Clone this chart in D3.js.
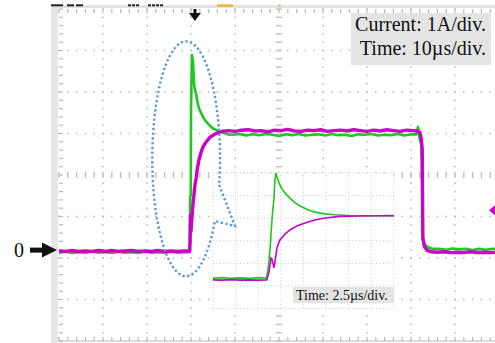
<!DOCTYPE html>
<html>
<head>
<meta charset="utf-8">
<script src="https://d3js.org/d3.v7.min.js"></script>
<style>
  body { margin: 0; background: #fff; }
  svg { display: block; font-family: "Liberation Serif", "DejaVu Serif", serif; }
</style>
</head>
<body>
<div id="chart"></div>
<script>
// main view: time in µs (10 µs/div), current in A (1 A/div)
const greenMain = [
  [0,-0.06],[1.5,-0.04],[3,-0.07],[4.5,-0.05],[6,-0.06],[7.5,-0.03],[9,-0.06],[10.5,-0.05],[12,-0.07],[13.5,-0.04],
  [15,-0.06],[16.5,-0.05],[18,-0.07],[19.5,-0.04],[21,-0.06],[22.5,-0.05],[24,-0.06],[25.5,-0.04],[27,-0.06],[28.5,-0.05],[29.7,-0.05],
  [29.8,1.28],[29.95,1.32],[30.0,3.3],[30.2,4.7],[30.45,4.55],[30.7,4.0],[30.9,3.86],[31.2,3.75],[31.4,3.61],[31.8,3.42],
  [32.3,3.30],[32.8,3.2],[33.2,3.13],[33.8,3.05],[34.3,3.0],[35.0,2.93],[35.5,2.91],[36.6,2.85],[37.5,2.82],[38.4,2.79],
  [39.5,2.78],[41,2.80],[42.5,2.76],[44,2.79],[45.5,2.77],[47,2.80],[48.5,2.78],[50,2.75],[51.5,2.79],[53,2.77],
  [54.5,2.80],[56,2.76],[57.5,2.78],[59,2.79],[60.5,2.76],[62,2.80],[63.5,2.77],[65,2.78],[66.5,2.75],[68,2.79],
  [69.5,2.78],[71,2.80],[72.5,2.76],[74,2.78],[75.5,2.77],[77,2.80],[78.5,2.76],[80,2.79],[81.2,2.79],
  [81.6,2.97],[81.9,2.72],[82.3,2.55],[82.45,2.1],[82.65,0.25],[83.2,0.12],[84,0.06],[85,0.03],
  [86.5,0.03],[88,0.01],[89.5,0.04],[91,0.02],[92.5,0.03],[94,0.0],[95.5,0.03],[97,0.01],[98.5,0.03],[100,0.02]
];
const magentaMain = [
  [0,-0.02],[1.5,-0.03],[3,-0.01],[4.5,-0.03],[6,-0.02],[7.5,-0.03],[9,-0.01],[10.5,-0.03],[12,-0.01],[13.5,-0.03],
  [15,-0.02],[16.5,-0.01],[18,-0.03],[19.5,-0.02],[21,-0.03],[22.5,-0.01],[24,-0.03],[25.5,-0.02],[27,-0.03],[28.5,-0.02],[29.7,-0.02],
  [29.8,0.2],[29.9,0.84],[30.0,0.45],[30.15,0.70],[30.3,0.9],[30.45,1.1],[30.9,1.57],[31.2,1.75],[31.4,1.93],[31.8,2.17],
  [32.3,2.36],[32.7,2.48],[33.4,2.60],[34.3,2.72],[35.5,2.80],[37.0,2.86],
  [38.5,2.88],[40,2.86],[41.5,2.89],[43,2.90],[44.5,2.87],[46,2.88],[47.5,2.85],[49,2.89],[50.5,2.88],[52,2.91],
  [53.5,2.87],[55,2.86],[56.5,2.89],[58,2.88],[59.5,2.90],[61,2.86],[62.5,2.88],[64,2.89],[65.5,2.87],[67,2.90],
  [68.5,2.88],[70,2.86],[71.5,2.89],[73,2.87],[74.5,2.90],[76,2.88],[77.5,2.86],[79,2.89],[80.5,2.88],[81.5,2.87],
  [82.0,2.84],[82.3,2.7],[82.55,2.45],[82.7,0.3],[83.0,0.1],[83.6,0.0],[84.5,-0.04],
  [86,-0.05],[87.5,-0.04],[89,-0.06],[90.5,-0.05],[92,-0.06],[93.5,-0.04],[95,-0.06],[96.5,-0.05],[98,-0.06],[100,-0.05]
];

// zoomed inset: 2.5 µs/div
const greenInset = [
  [0,0.04],[1,0.06],[2,0.03],[3,0.05],[4,0.03],[5,0.06],[5.9,0.04],[6.08,0.4],[6.3,1.28],[6.52,2.6],[6.63,3.1],
  [6.75,3.6],[6.85,4.38],[6.96,4.69],[7.18,4.38],[7.51,4.07],[7.96,3.80],[8.51,3.58],[9.06,3.38],[9.61,3.23],
  [10.5,3.06],[11.27,2.96],[12.38,2.88],[13.48,2.84],[15.1,2.81],[16.5,2.80],[18,2.80],[20,2.79]
];
const magentaInset = [
  [0,-0.04],[1,-0.05],[2,-0.03],[3,-0.05],[4,-0.04],[5,-0.05],[5.95,-0.04],[6.19,0.31],[6.41,0.93],[6.52,0.88],
  [6.74,0.49],[6.85,0.75],[7.07,1.37],[7.4,1.73],[7.96,1.99],[8.51,2.17],[9.28,2.35],[10.17,2.48],[11.27,2.61],
  [12.38,2.70],[14.03,2.77],[16.2,2.79],[18,2.80],[20,2.81]
];

const scaleLabels = ['Current: 1A/div.', 'Time: 10µs/div.'];
const insetLabel = 'Time: 2.5µs/div.';
const zeroLabel = '0';
const triggerTime = 30.9;
const markerLevel = 0.96;
const zeroOffsetDiv = 2.19;

// callout (data units): ellipse centre, radii, pointer tip, pointer base levels
const calloutCenter = [28.9, 2.2];
const calloutRadii = [7.7, 2.83];
const calloutTip = [40.0, 0.58];
const calloutBase = [1.57, 0.70];

const width = 495, height = 343;
const svg = d3.select('#chart').append('svg')
  .attr('width', width)
  .attr('height', height);

const xDiv = d3.scaleLinear().domain([0, 10]).range([59, 499]);
const yDiv = d3.scaleLinear().domain([0, 8]).range([341, 9]);
const x = d3.scaleLinear().domain([0, 100]).range([59, 499]);
const y = d3.scaleLinear().domain([-zeroOffsetDiv, 8 - zeroOffsetDiv]).range([341, 9]);

const xi = d3.scaleLinear().domain([0, 20]).range([213, 393.8]);
const yi = d3.scaleLinear().domain([-1.31, 4.69]).range([308.6, 173]);
const xiDiv = d3.scaleLinear().domain([0, 8]).range([213, 393.8]);
const yiDiv = d3.scaleLinear().domain([0, 6]).range([308.6, 173]);

// frame
svg.append('rect').attr('x', 51).attr('y', 5).attr('width', 7).attr('height', 338).attr('fill', '#e6e6e6');
svg.append('rect').attr('x', 51).attr('y', 5).attr('width', 444).attr('height', 3).attr('fill', '#e2e2e2');
svg.append('line').attr('x1', 58).attr('x2', 495).attr('y1', 341).attr('y2', 341)
  .attr('stroke', '#d0d0d0').attr('stroke-width', 1.5);

// header remnants
const header = svg.append('g');
[[51, 2], [53, 10], [67, 7], [76, 7], [128, 3], [132, 3], [136, 3], [148, 3], [152, 3], [156, 3], [160, 3]].forEach(([hx, w]) => {
  header.append('rect').attr('x', hx).attr('y', 4.3).attr('width', w).attr('height', 2).attr('fill', '#222');
});
header.append('rect').attr('x', 217).attr('y', 4.5).attr('width', 16).attr('height', 2).attr('fill', '#f5a623');
header.append('rect').attr('x', 278.5).attr('y', 4.5).attr('width', 2).attr('height', 2).attr('fill', '#f5a623');

// grid
const grid = svg.append('g');
const minorX = d3.range(0, 10.01, 0.2);
const minorY = d3.range(0, 8.01, 0.2);
[1, 2, 3, 4, 6, 7, 8, 9].forEach(d => {
  grid.selectAll(null).data(minorY).enter().append('rect')
    .attr('x', xDiv(d) - 0.75).attr('y', m => yDiv(m) - 0.75)
    .attr('width', 1.5).attr('height', 1.5).attr('fill', '#b8b8b8');
});
[1, 2, 3, 5, 6, 7].forEach(d => {
  grid.selectAll(null).data(minorX).enter().append('rect')
    .attr('x', m => xDiv(m) - 0.75).attr('y', yDiv(d) - 0.75)
    .attr('width', 1.5).attr('height', 1.5).attr('fill', '#b8b8b8');
});
grid.selectAll(null).data(minorY).enter().append('rect')
  .attr('x', xDiv(5) - 3).attr('y', m => yDiv(m) - 0.75)
  .attr('width', 6).attr('height', 1.5).attr('fill', '#c4c4c4');
grid.selectAll(null).data(minorX).enter().append('rect')
  .attr('x', m => xDiv(m) - 0.75).attr('y', yDiv(4) - 3)
  .attr('width', 1.5).attr('height', 6).attr('fill', '#c4c4c4');
// edge ticks
grid.selectAll(null).data(minorY).enter().append('line')
  .attr('x1', 59).attr('x2', 63).attr('y1', m => yDiv(m)).attr('y2', m => yDiv(m))
  .attr('stroke', '#b8b8b8').attr('stroke-width', 1.2);
grid.selectAll(null).data(minorX).enter().append('line')
  .attr('x1', m => xDiv(m)).attr('x2', m => xDiv(m)).attr('y1', 9).attr('y2', 13)
  .attr('stroke', '#b8b8b8').attr('stroke-width', 1.2);
grid.selectAll(null).data(minorX).enter().append('line')
  .attr('x1', m => xDiv(m)).attr('x2', m => xDiv(m)).attr('y1', 337).attr('y2', 341)
  .attr('stroke', '#b8b8b8').attr('stroke-width', 1.2);

// main traces
const line = d3.line().x(d => x(d[0])).y(d => y(d[1]));
svg.append('path').datum(greenMain).attr('d', line)
  .attr('fill', 'none').attr('stroke', '#1ec81e').attr('stroke-width', 2.6).attr('stroke-linejoin', 'round');
svg.append('path').datum(magentaMain).attr('d', line)
  .attr('fill', 'none').attr('stroke', '#cc00cc').attr('stroke-width', 3.4).attr('stroke-linejoin', 'round');

// inset
const inset = svg.append('g');
inset.append('rect').attr('x', xi(0)).attr('y', yi(4.69))
  .attr('width', xi(20) - xi(0)).attr('height', yi(-1.31) - yi(4.69)).attr('fill', '#fff');
inset.selectAll(null).data(d3.range(0, 9)).enter().append('line')
  .attr('x1', d => xiDiv(d)).attr('x2', d => xiDiv(d)).attr('y1', yiDiv(0)).attr('y2', yiDiv(6))
  .attr('stroke', '#c8c8c8').attr('stroke-width', 1).attr('stroke-dasharray', '1,2.4');
inset.selectAll(null).data(d3.range(0, 7)).enter().append('line')
  .attr('x1', xiDiv(0)).attr('x2', xiDiv(8)).attr('y1', d => yiDiv(d)).attr('y2', d => yiDiv(d))
  .attr('stroke', '#c8c8c8').attr('stroke-width', 1).attr('stroke-dasharray', '1,2.4');

const lineIn = d3.line().x(d => xi(d[0])).y(d => yi(d[1]));
inset.append('path').datum(greenInset).attr('d', lineIn)
  .attr('fill', 'none').attr('stroke', '#1ec81e').attr('stroke-width', 1.6);
inset.append('path').datum(magentaInset).attr('d', lineIn)
  .attr('fill', 'none').attr('stroke', '#cc00cc').attr('stroke-width', 1.6);

inset.append('rect').attr('x', 293).attr('y', 287).attr('width', 101).attr('height', 16).attr('fill', '#e4e4e4');
inset.append('text').attr('x', 296).attr('y', 299.5)
  .attr('font-size', 14).attr('fill', '#111').text(insetLabel);

// callout
const cx = x(calloutCenter[0]), cy = y(calloutCenter[1]);
const rx = x(calloutRadii[0]) - x(0), ry = y(0) - y(calloutRadii[1]);
const onEllipse = level => {
  const py = y(level);
  const k = (py - cy) / ry;
  return [cx + rx * Math.sqrt(1 - k * k), py];
};
const pA = onEllipse(calloutBase[0]);
const pB = onEllipse(calloutBase[1]);
const tip = [x(calloutTip[0]), y(calloutTip[1])];
svg.append('path')
  .attr('d', `M${pA[0]},${pA[1]} L${tip[0]},${tip[1]} L${pB[0]},${pB[1]} A${rx},${ry} 0 1 1 ${pA[0]},${pA[1]}`)
  .attr('fill', 'none').attr('stroke', '#5b9bd5').attr('stroke-width', 2.4)
  .attr('stroke-dasharray', '2.3,2.4');

// markers
const tx = x(triggerTime);
svg.append('rect').attr('x', tx - 1.5).attr('y', 9).attr('width', 3).attr('height', 6).attr('fill', '#111');
svg.append('path').attr('d', `M${tx - 6},${13} L${tx + 6},${13} L${tx},${21} Z`).attr('fill', '#111');

const zy = y(0);
svg.append('rect').attr('x', 30).attr('y', zy - 2.5).attr('width', 14).attr('height', 5).attr('fill', '#111');
svg.append('path').attr('d', `M42,${zy - 7.5} L42,${zy + 7.5} L57,${zy} Z`).attr('fill', '#111');
svg.append('text').attr('x', 14).attr('y', zy + 7).attr('font-size', 20).attr('fill', '#111').text(zeroLabel);

const my = y(markerLevel);
svg.append('path').attr('d', `M489,${my} L496,${my - 6} L503,${my} L496,${my + 6} Z`).attr('fill', '#cc00cc');

// scale label box
svg.append('rect').attr('x', 351).attr('y', 13).attr('width', 140).attr('height', 52).attr('fill', '#e4e4e4');
svg.selectAll(null).data(scaleLabels).enter().append('text')
  .attr('x', 486).attr('y', (d, i) => 31 + i * 23.5)
  .attr('text-anchor', 'end').attr('font-size', 20).attr('fill', '#111')
  .text(d => d);
</script>
</body>
</html>
